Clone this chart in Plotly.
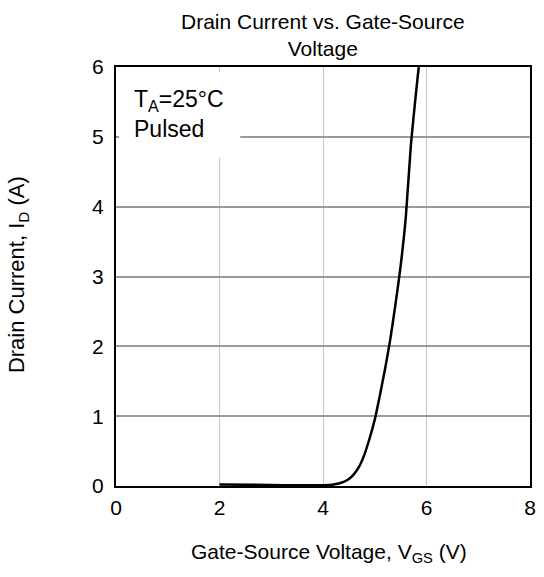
import plotly.graph_objects as go

# Transfer characteristic: drain current vs. gate-source voltage (TA = 25 °C, pulsed)
vgs = [2.0, 3.0, 3.5, 4.0, 4.2, 4.4, 4.5, 4.6, 4.7, 4.8, 4.9, 5.0,
       5.1, 5.2, 5.3, 5.4, 5.5, 5.6, 5.7, 5.8, 5.85]
id_a = [0.02, 0.015, 0.01, 0.01, 0.02, 0.06, 0.10, 0.17, 0.28, 0.45, 0.68, 0.95,
        1.30, 1.68, 2.10, 2.60, 3.15, 3.85, 4.90, 5.65, 6.0]

x_ticks = [0, 2, 4, 6, 8]
y_ticks = [0, 1, 2, 3, 4, 5, 6]

FONT = "Liberation Sans, Arial, sans-serif"

fig = go.Figure()
fig.add_trace(go.Scatter(
    x=vgs, y=id_a, mode="lines",
    line=dict(color="black", width=2.5, shape="spline", smoothing=0.6),
    hoverinfo="skip", showlegend=False,
))

# white box behind the condition note
fig.add_shape(type="rect", xref="x", yref="y", x0=0.06, x1=2.4, y0=4.7, y1=5.93,
              fillcolor="white", line=dict(width=0), layer="between")

fig.add_annotation(x=0.3, y=5.32, xref="x", yref="y", xanchor="left", yanchor="middle",
                   text="T<sub>A</sub>=25°C<br>Pulsed", showarrow=False, align="left",
                   font=dict(family=FONT, size=23, color="black"))

# chart title
fig.add_annotation(x=0.5, y=1.0 + (67 - 35) / 419, xref="paper", yref="paper",
                   xanchor="center", yanchor="middle",
                   text="Drain Current vs. Gate-Source<br>Voltage", showarrow=False,
                   font=dict(family=FONT, size=21, color="black"))

# axis titles
fig.add_annotation(x=0.515, y=-0.16, xref="paper", yref="paper", xanchor="center", yanchor="middle",
                   text="Gate-Source Voltage, V<sub>GS</sub> (V)", showarrow=False,
                   font=dict(family=FONT, size=21, color="black"))
fig.add_annotation(x=-0.235, y=0.505, xref="paper", yref="paper", xanchor="center", yanchor="middle",
                   text="Drain Current, I<sub>D</sub> (A)", showarrow=False, textangle=-90,
                   font=dict(family=FONT, size=22, color="black"))

fig.update_layout(
    width=544, height=577,
    margin=dict(l=116, r=8, t=67, b=91),
    paper_bgcolor="white", plot_bgcolor="white",
    font=dict(family=FONT, size=21, color="black"),
)
fig.update_xaxes(range=[0, 8], tickvals=x_ticks, showgrid=True, gridcolor="#c8c8c8", gridwidth=1,
                 showline=True, linecolor="black", linewidth=2, mirror=True, zeroline=False,
                 ticks="", ticklabelstandoff=2, tickfont=dict(size=21))
fig.update_yaxes(range=[0, 6], tickvals=y_ticks, showgrid=True, gridcolor="#9a9a9a", gridwidth=2,
                 showline=True, linecolor="black", linewidth=2, mirror=True, zeroline=False,
                 ticks="", ticklabelstandoff=6, tickfont=dict(size=21))

fig.write_html("out.html")
